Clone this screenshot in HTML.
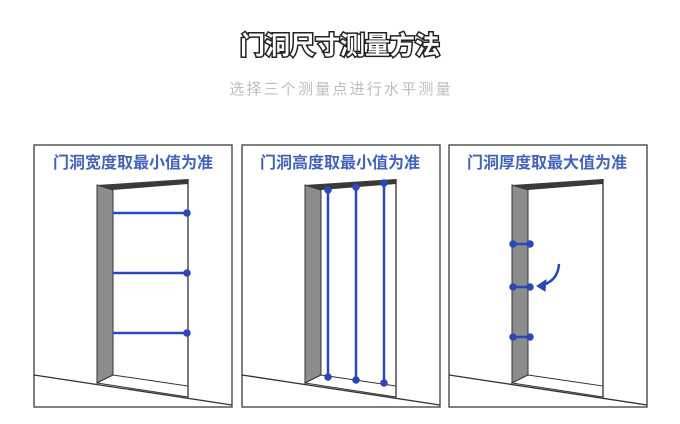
<!DOCTYPE html><html><head><meta charset="utf-8"><style>
body{margin:0;width:680px;height:424px;background:#fff;overflow:hidden;font-family:"Liberation Sans","Noto Sans CJK SC",sans-serif}
</style></head><body>
<svg width="680" height="424" xmlns="http://www.w3.org/2000/svg" style="position:absolute;left:0;top:0">
<text x="340" y="54" text-anchor="middle" font-size="25" font-weight="bold" fill="#fff" stroke="#222" stroke-width="3" paint-order="stroke" font-family="Noto Sans CJK SC,sans-serif">门洞尺寸测量方法</text>
<text x="341" y="94" text-anchor="middle" font-size="15" fill="#bdbdbd" letter-spacing="2.2" font-family="Noto Sans CJK SC,sans-serif">选择三个测量点进行水平测量</text>
<defs>
<g id="door">
<rect x="34" y="145" width="198" height="262" fill="#fff" stroke="#555" stroke-width="1.5"/>
<line x1="34" y1="375" x2="232" y2="405" stroke="#333" stroke-width="1.3"/>
<polygon points="97,185 113,190 113,375 97,383" fill="#8c8c8c" stroke="#333" stroke-width="1"/>
<polygon points="97,185 188,179 188,184 113,190" fill="#3a3a3a"/>
<polygon points="113,375 188,386 188,397 97,383" fill="#fff" stroke="#333" stroke-width="1"/>
<line x1="188" y1="179" x2="188" y2="397" stroke="#333" stroke-width="1.3"/>
<line x1="113" y1="190" x2="113" y2="375" stroke="#333" stroke-width="1"/>
</g>
</defs>
<use href="#door"/>
<use href="#door" x="208"/>
<use href="#door" x="415"/>
<g font-size="16" font-weight="bold" fill="#4262bb" text-anchor="middle" font-family="Noto Sans CJK SC,sans-serif">
<text x="133" y="168">门洞宽度取最小值为准</text>
<text x="340" y="168">门洞高度取最小值为准</text>
<text x="547" y="168">门洞厚度取最大值为准</text>
</g>
<g stroke="#2b47b8" stroke-width="2.5" fill="#2b47b8">
<line x1="113" y1="213" x2="188" y2="213"/><circle cx="187" cy="213" r="2.5"/>
<line x1="113" y1="273" x2="188" y2="273"/><circle cx="187" cy="273" r="2.5"/>
<line x1="113" y1="333" x2="188" y2="333"/><circle cx="187" cy="333" r="2.5"/>
<line x1="328" y1="190" x2="328" y2="377"/><circle cx="328" cy="190" r="2.5"/><circle cx="328" cy="377" r="2.5"/>
<line x1="356" y1="187" x2="356" y2="380"/><circle cx="356" cy="187" r="2.5"/><circle cx="356" cy="380" r="2.5"/>
<line x1="384" y1="183" x2="384" y2="383"/><circle cx="384" cy="183" r="2.5"/><circle cx="384" cy="383" r="2.5"/>
<line x1="513" y1="244" x2="530" y2="244"/><circle cx="513" cy="244" r="2.5"/><circle cx="530" cy="244" r="2.5"/>
<line x1="513" y1="287" x2="530" y2="287"/><circle cx="513" cy="287" r="2.5"/><circle cx="530" cy="287" r="2.5"/>
<line x1="513" y1="337" x2="530" y2="337"/><circle cx="513" cy="337" r="2.5"/><circle cx="530" cy="337" r="2.5"/>
<path d="M559,264 Q558,282 539,286" fill="none"/>
<path d="M537,286 L546,280 L545,291 Z" stroke-width="1"/>
</g>
</svg>
</body></html>
